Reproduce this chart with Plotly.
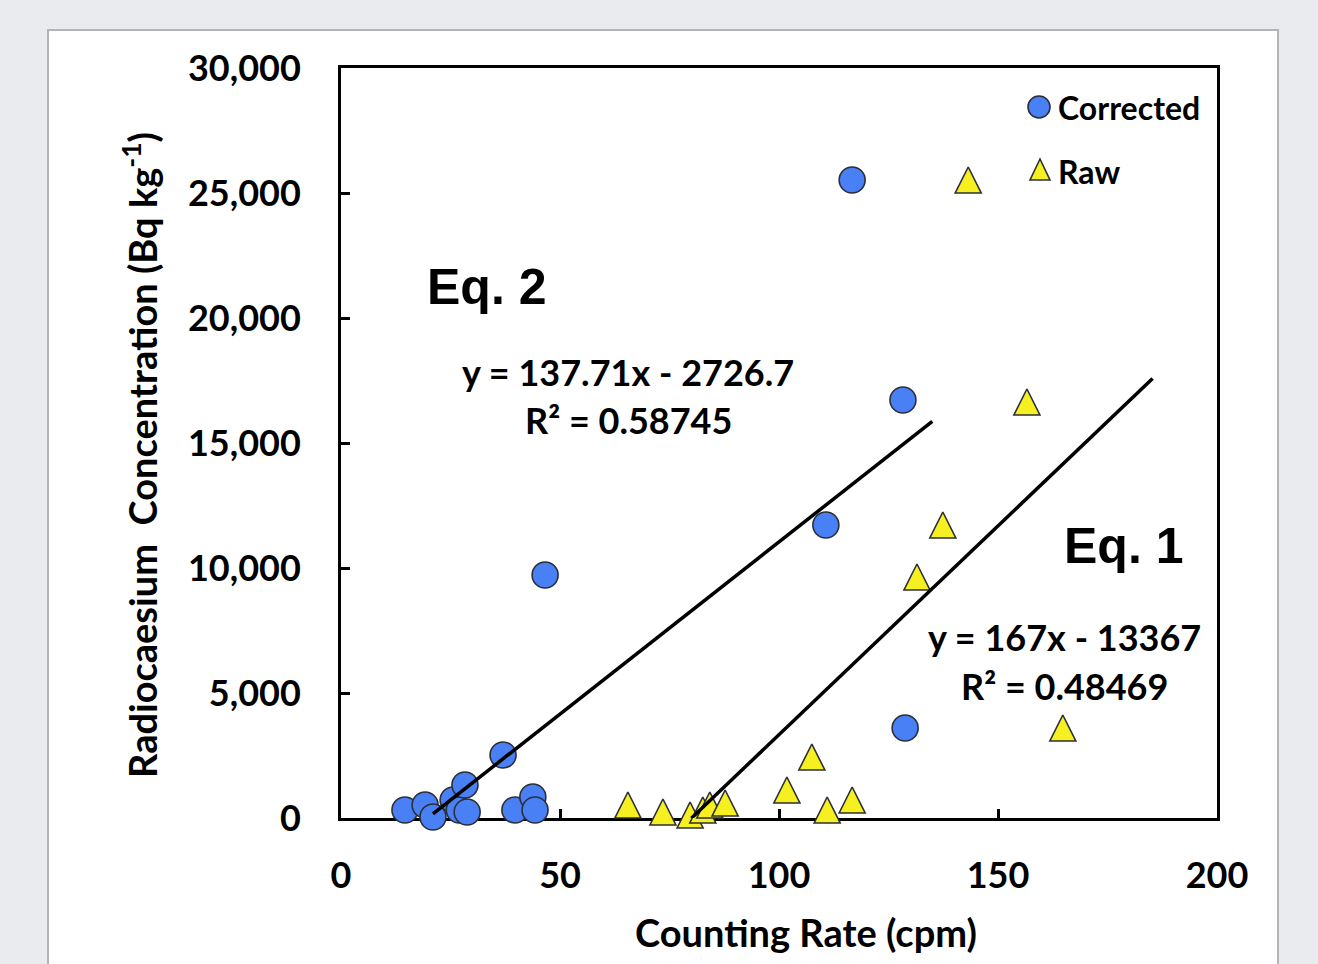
import plotly.graph_objects as go

# ---- data ----
corr_x = [14.6, 19.2, 21.0, 25.6, 27.0, 28.3, 28.8, 37.0, 39.7, 43.8, 44.3, 46.6, 110.7, 116.7, 128.3, 128.8]
corr_y = [320, 520, 40, 720, 320, 1320, 240, 2520, 320, 840, 320, 9720, 11720, 25520, 16720, 3600]

raw_x = [65.5, 73.5, 79.7, 82.6, 84.2, 87.7, 101.8, 107.5, 111.0, 116.7, 131.5, 137.4, 143.2, 156.6, 164.8]
raw_y = [520, 240, 120, 320, 520, 600, 1120, 2440, 320, 720, 9640, 11720, 25520, 16640, 3600]

eq2_slope, eq2_intercept = 137.71, -2726.7
eq2_xrange = [21.0, 135.0]
eq1_slope, eq1_intercept = 167.0, -13367.0
eq1_xrange = [80.0, 185.3]

x_ticks = [0, 50, 100, 150, 200]
y_ticks = [0, 5000, 10000, 15000, 20000, 25000, 30000]

FONT = "Lato, 'Open Sans', sans-serif"
ARIAL = "'Liberation Sans', Arial, sans-serif"
BLUE = "#4a80f5"
YELLOW = "#f6f020"
EDGE = "#2b2f38"

fig = go.Figure()
fig.add_trace(go.Scatter(
    x=corr_x, y=corr_y, mode="markers", name="Corrected", cliponaxis=False,
    marker=dict(symbol="circle", size=26, color=BLUE, line=dict(color=EDGE, width=1.6)),
    showlegend=False))
fig.add_trace(go.Scatter(
    x=raw_x, y=raw_y, mode="markers", name="Raw", cliponaxis=False,
    marker=dict(symbol="arrow-down", angle=180, size=26, standoff=13, color=YELLOW,
                line=dict(color=EDGE, width=1.6)),
    showlegend=False))

for xr, m, c in [(eq2_xrange, eq2_slope, eq2_intercept), (eq1_xrange, eq1_slope, eq1_intercept)]:
    fig.add_trace(go.Scatter(
        x=xr, y=[m * v + c for v in xr], mode="lines", cliponaxis=False,
        line=dict(color="black", width=3.5), showlegend=False, hoverinfo="skip"))

W, H = 1318, 964
L, R, T, B = 341, 101, 68, 146
pw, ph = W - L - R, H - T - B

def px(xp):
    return (xp - L) / pw

def py(yp):
    return (H - B - yp) / ph

shapes = [
    dict(type="rect", xref="paper", yref="paper",
         x0=px(48), x1=px(1278), y0=py(990), y1=py(30),
         fillcolor="white", line=dict(color="#b4b4b4", width=2), layer="below"),
    # legend symbols
    dict(type="circle", xref="paper", yref="paper", xsizemode="pixel", ysizemode="pixel",
         xanchor=px(1039), yanchor=py(107), x0=-11, x1=11, y0=-11, y1=11,
         fillcolor=BLUE, line=dict(color=EDGE, width=1.6)),
    dict(type="path", xref="paper", yref="paper", xsizemode="pixel", ysizemode="pixel",
         xanchor=px(1040), yanchor=py(170), path="M-10,-10 L10,-10 L0,11 Z",
         fillcolor=YELLOW, line=dict(color=EDGE, width=1.6)),
]

fig.update_layout(
    width=W, height=H,
    margin=dict(l=L, r=R, t=T, b=B),
    paper_bgcolor="#e9ebee",
    plot_bgcolor="white",
    font=dict(family=FONT, color="black", size=30, weight="bold"),
    showlegend=False,
    xaxis=dict(range=[0, 200], tickvals=x_ticks, ticks="inside", ticklen=9, tickwidth=3,
               tickcolor="black", showline=True, linecolor="black", linewidth=3,
               mirror=True, showgrid=False, zeroline=False, layer="below traces",
               tickfont=dict(size=36, family=FONT, weight="bold"), ticklabelstandoff=24),
    yaxis=dict(range=[0, 30000], tickvals=y_ticks, tickformat=",d", ticks="inside",
               ticklen=9, tickwidth=3, tickcolor="black", showline=True,
               linecolor="black", linewidth=3, mirror=True, showgrid=False,
               zeroline=False, layer="below traces",
               tickfont=dict(size=36, family=FONT, weight="bold"),
               ticklabelstandoff=30),
    shapes=shapes,
)

ann = [
    dict(text="Counting Rate (cpm)", x=px(806), y=py(932), size=38, f=FONT),
    dict(text="Radiocaesium&nbsp; Concentration (Bq kg<sup>-1</sup>)", x=px(140), y=py(455), size=38, f=FONT, angle=-90),
    dict(text="Eq. 2", x=px(486), y=py(287), size=50, f=ARIAL),
    dict(text="y = 137.71x - 2726.7", x=px(628), y=py(372), size=36, f=FONT),
    dict(text="R² = 0.58745", x=px(628), y=py(420), size=36, f=FONT),
    dict(text="Eq. 1", x=px(1123), y=py(546), size=50, f=ARIAL),
    dict(text="y = 167x - 13367", x=px(1064), y=py(637), size=36, f=FONT),
    dict(text="R² = 0.48469", x=px(1064), y=py(686), size=36, f=FONT),
]
for a in ann:
    fig.add_annotation(text=a["text"], x=a["x"], y=a["y"], xref="paper", yref="paper",
                       showarrow=False, xanchor="center", yanchor="middle",
                       textangle=a.get("angle", 0),
                       font=dict(size=a["size"], family=a["f"], color="black", weight="bold"))

# legend labels
for label, yp in [("Corrected", 107), ("Raw", 171)]:
    fig.add_annotation(text=label, x=px(1056), y=py(yp), xref="paper", yref="paper",
                       showarrow=False, xanchor="left", yanchor="middle",
                       font=dict(size=32, family=FONT, color="black", weight="bold"))

fig.write_html("out.html", config={"displayModeBar": False},
               post_script="document.body.style.margin='0';document.body.style.overflow='hidden';")
